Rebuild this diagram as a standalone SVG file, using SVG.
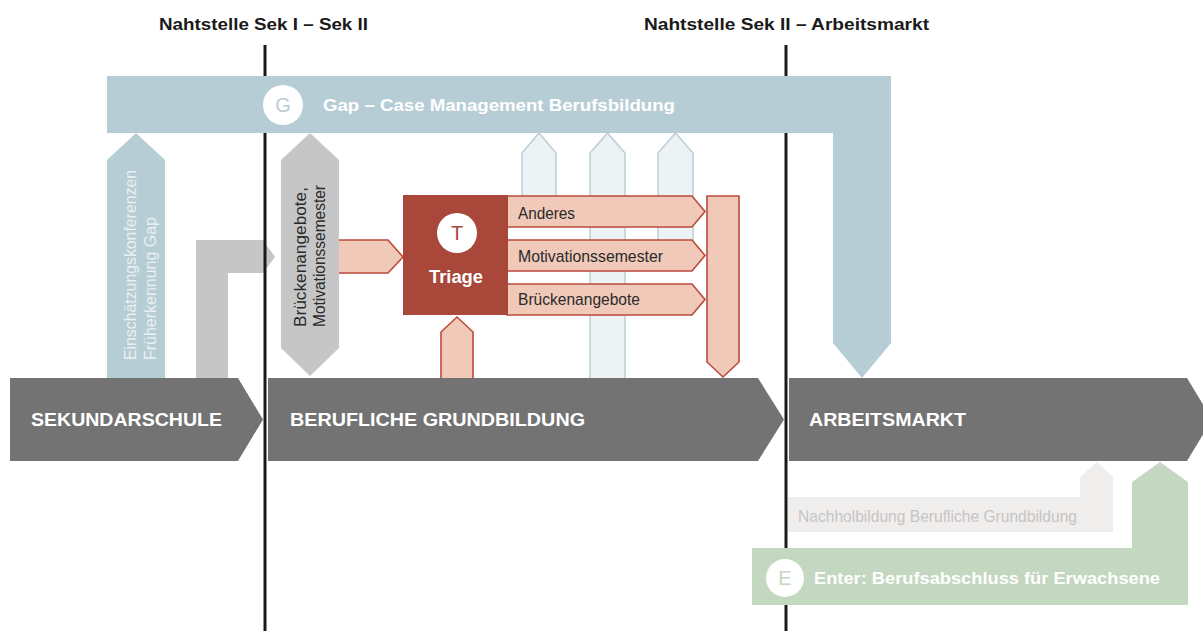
<svg xmlns="http://www.w3.org/2000/svg" width="1203" height="631" viewBox="0 0 1203 631">
<style>
text{font-family:"Liberation Sans","Arial",sans-serif}
.b{font-weight:bold}
.hdr{font-size:17px;fill:#1a1a1a;font-weight:bold}
.chev{fill:#737373}
.chevt{font-size:18px;fill:#ffffff;font-weight:bold}
.lb{fill:#edf2f5;stroke:#bccfd6;stroke-width:1.5}
.blue{fill:#b7cdd5}
.pink{fill:#f0c9b9;stroke:#bb4a3b;stroke-width:1.6}
.cond{font-size:17px;fill:#2a2a2a}
.vline{stroke:#1a1a1a;stroke-width:3}
</style>

<g id="phases">
  <path class="chev" d="M10,378 H238 L263,419.5 L238,461 H10 Z"/>
  <text class="chevt" x="31" y="426" textLength="191" lengthAdjust="spacingAndGlyphs">SEKUNDARSCHULE</text>
  <path class="chev" d="M268,378 H758 L784,419.5 L758,461 H268 Z"/>
  <text class="chevt" x="290" y="426" textLength="295" lengthAdjust="spacingAndGlyphs">BERUFLICHE GRUNDBILDUNG</text>
  <path class="chev" d="M789,378 H1187 L1212,419.5 L1187,461 H789 Z"/>
  <text class="chevt" x="809" y="426" textLength="157" lengthAdjust="spacingAndGlyphs">ARBEITSMARKT</text>
</g>

<g id="connectors">
  <path class="lb" d="M522,210 V153 L539,133 L556,153 V210"/>
  <path class="lb" d="M590,378 V153 L607.5,133 L625,153 V378"/>
  <path class="lb" d="M658,270 V153 L675.5,133 L693,153 V270"/>
  <path fill="#c6c6c6" d="M196,378 V240 H263 L275,257 L263,273 H228 V378 Z"/>
  <path class="pink" d="M330,240 H388 L403,257 L388,273 H330 Z"/>
  <path class="pink" d="M441,378 V332 L457,317 L473,332 V378"/>
</g>

<g id="frueherkennung">
  <path class="blue" d="M107,378 V160 L136,133 L165,160 V378 Z"/>
  <text transform="translate(136,360) rotate(-90)" font-size="17" fill="#e9f0f2" textLength="190" lengthAdjust="spacingAndGlyphs">Einschätzungskonferenzen</text>
  <text transform="translate(156,360) rotate(-90)" font-size="17" fill="#e9f0f2" textLength="143" lengthAdjust="spacingAndGlyphs">Früherkennung Gap</text>
</g>

<g id="nahtstellen">
  <line class="vline" x1="265" y1="45" x2="265" y2="631"/>
  <line class="vline" x1="786" y1="45" x2="786" y2="631"/>
  <text class="hdr" x="159" y="30" textLength="209" lengthAdjust="spacingAndGlyphs">Nahtstelle Sek I – Sek II</text>
  <text class="hdr" x="644" y="30" textLength="285" lengthAdjust="spacingAndGlyphs">Nahtstelle Sek II – Arbeitsmarkt</text>
</g>

<g id="gap">
  <path class="blue" d="M107,76 H891 V343 L862,378 L833,343 V133 H107 Z"/>
  <circle cx="283" cy="105" r="20" fill="#ffffff"/>
  <text x="283" y="112" font-size="20" fill="#b7cdd5" text-anchor="middle">G</text>
  <text class="b" x="323" y="111" font-size="17" fill="#ffffff" textLength="352" lengthAdjust="spacingAndGlyphs">Gap – Case Management Berufsbildung</text>
</g>

<g id="brueckenangebote">
  <path fill="#c6c6c6" d="M281,160 L310,133 L339,160 V348 L310,376 L281,348 Z"/>
  <text transform="translate(306,327) rotate(-90)" font-size="17" fill="#2a2a2a" textLength="140" lengthAdjust="spacingAndGlyphs">Brückenangebote,</text>
  <text transform="translate(325,327) rotate(-90)" font-size="17" fill="#2a2a2a" textLength="142" lengthAdjust="spacingAndGlyphs">Motivationssemester</text>
</g>

<g id="optionen">
  <path class="pink" d="M507,196 H692 L705,211.5 L692,227 H507 Z"/>
  <text class="cond" x="518" y="219" textLength="57" lengthAdjust="spacingAndGlyphs">Anderes</text>
  <path class="pink" d="M507,240 H692 L705,255.5 L692,271 H507 Z"/>
  <text class="cond" x="518" y="262" textLength="145" lengthAdjust="spacingAndGlyphs">Motivationssemester</text>
  <path class="pink" d="M507,284 H692 L705,299.5 L692,315 H507 Z"/>
  <text class="cond" x="518" y="305" textLength="122" lengthAdjust="spacingAndGlyphs">Brückenangebote</text>
  <path class="pink" d="M707,196 H739 V362 L723,377 L707,362 Z"/>
</g>

<g id="triage">
  <rect x="403" y="195" width="105" height="120" fill="#a8473a"/>
  <circle cx="457" cy="233" r="20" fill="#ffffff"/>
  <text x="457" y="240" font-size="20" fill="#a8473a" text-anchor="middle">T</text>
  <text class="b" x="456" y="283" font-size="18" fill="#ffffff" text-anchor="middle" textLength="54" lengthAdjust="spacingAndGlyphs">Triage</text>
</g>

<g id="nachholbildung">
  <path fill="#f0eeed" d="M788,497 H1080 V477 L1097,462 L1113,477 V532 H788 Z"/>
  <text x="798" y="522" font-size="17" fill="#c6c4c3" textLength="279" lengthAdjust="spacingAndGlyphs">Nachholbildung Berufliche Grundbildung</text>
</g>

<g id="enter">
  <path fill="#c4d7c0" d="M752,548 H1132 V482 L1160,462 L1188,482 V605 H752 Z"/>
  <circle cx="785" cy="578" r="19" fill="#ffffff"/>
  <text x="785" y="585" font-size="20" fill="#c4d7c0" text-anchor="middle">E</text>
  <text class="b" x="814" y="584" font-size="17" fill="#ffffff" textLength="346" lengthAdjust="spacingAndGlyphs">Enter: Berufsabschluss für Erwachsene</text>
</g>
</svg>
